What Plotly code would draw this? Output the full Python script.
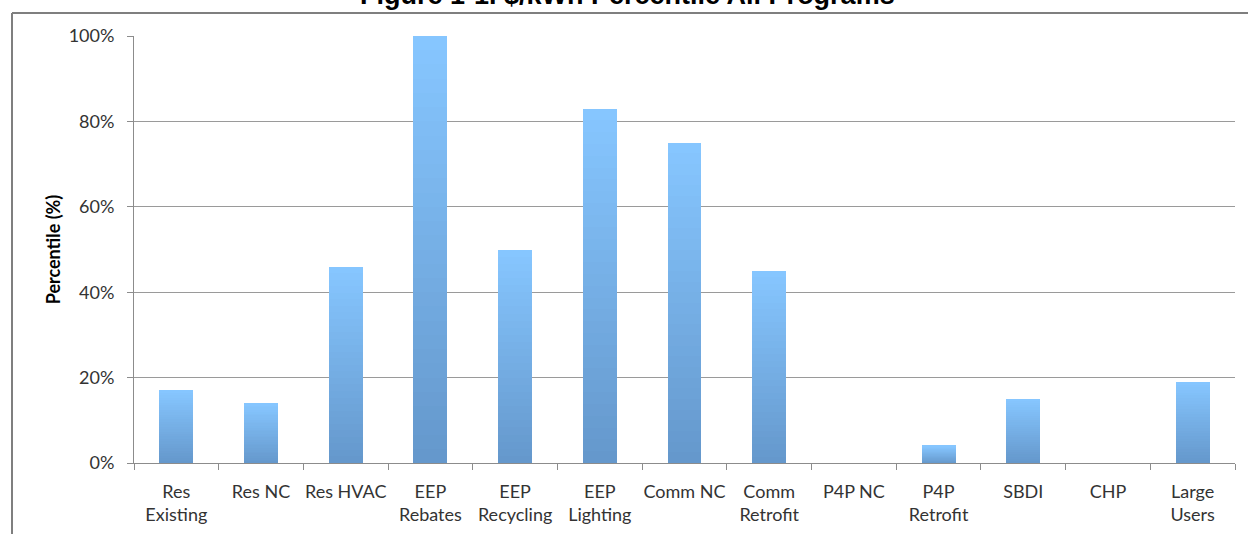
import plotly.graph_objects as go

categories = ["Res<br>Existing", "Res NC", "Res HVAC", "EEP<br>Rebates", "EEP<br>Recycling",
              "EEP<br>Lighting", "Comm NC", "Comm<br>Retrofit", "P4P NC", "P4P<br>Retrofit",
              "SBDI", "CHP", "Large<br>Users"]
percentile = [17, 14, 46, 100, 50, 83, 75, 45, 0, 4, 15, 0, 19]
y_ticks = [0, 20, 40, 60, 80, 100]
y_tick_text = ["0%", "20%", "40%", "60%", "80%", "100%"]

title_text = "Figure 1-1. $/kWh Percentile All Programs"

# gradient rendering: stack thin slices of each bar, dark at bottom, light at top
N_SLICES = 30
bottom_rgb = (101, 152, 204)
top_rgb = (134, 198, 255)

fig = go.Figure()
for k in range(N_SLICES):
    t = k / (N_SLICES - 1)
    c = tuple(round(b + (tp - b) * t) for b, tp in zip(bottom_rgb, top_rgb))
    fig.add_trace(go.Bar(
        x=categories,
        y=[v / N_SLICES for v in percentile],
        marker=dict(color="rgb(%d,%d,%d)" % c, line=dict(width=0)),
        hoverinfo="skip",
        showlegend=False,
    ))

L, R, T, B = 134, 13, 36, 71
W, H = 1248, 534
pw, ph = W - L - R, H - T - B

fig.update_layout(
    width=W, height=H,
    barmode="stack",
    bargap=0.6,
    plot_bgcolor="white",
    paper_bgcolor="white",
    margin=dict(l=L, r=R, t=T, b=B, autoexpand=False),
    font=dict(family="Lato, Open Sans, sans-serif", size=16, color="#333"),
    xaxis=dict(
        type="category",
        showgrid=False,
        showline=True, linecolor="#8c8c8c", linewidth=1,
        ticks="outside", tickson="boundaries", ticklen=6, tickcolor="#8c8c8c",
        tickangle=0, ticklabelstandoff=12,
        tickfont=dict(size=18, color="#333"),
    ),
    yaxis=dict(
        range=[0, 100],
        tickvals=y_ticks,
        ticktext=y_tick_text,
        showgrid=True, gridcolor="#9a9a9a", gridwidth=1,
        showline=True, linecolor="#8c8c8c", linewidth=1,
        ticks="outside", ticklen=6, tickcolor="#8c8c8c",
        ticklabelstandoff=9,
        tickfont=dict(size=18, color="#333"),
        title=dict(text="<b>Percentile (%)</b>", font=dict(size=18, color="black"), standoff=3),
        zeroline=False,
    ),
    annotations=[
        dict(text="<b>" + title_text + "</b>", xref="paper", yref="paper",
             x=(627 - L) / pw, y=1 + (T + 5) / ph, xanchor="center", yanchor="middle",
             showarrow=False,
             font=dict(family="Liberation Sans, Arial", size=27, color="black")),
    ],
    shapes=[
        dict(type="line", xref="paper", yref="paper",
             x0=(12 - L) / pw, x1=(W - L) / pw + 0.05, y0=1 + (T - 13) / ph, y1=1 + (T - 13) / ph,
             line=dict(color="#7f7f7f", width=2), layer="above"),
        dict(type="line", xref="paper", yref="paper",
             x0=(12 - L) / pw, x1=(12 - L) / pw, y0=1 + (T - 13) / ph, y1=-0.3,
             line=dict(color="#7f7f7f", width=2), layer="above"),
    ],
)

fig.write_html("out.html", config={"displayModeBar": False},
               post_script="document.body.style.margin='0';")
